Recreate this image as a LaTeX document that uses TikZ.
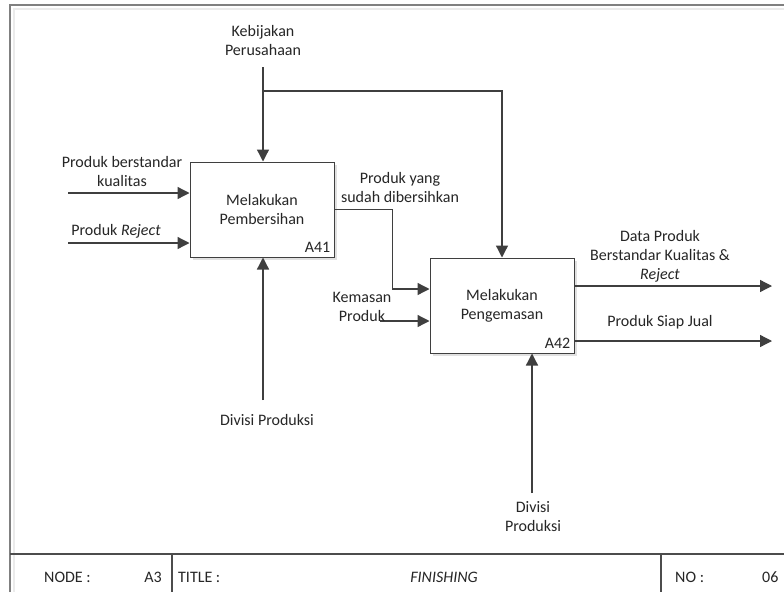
\documentclass[tikz,border=0pt]{standalone}
\usepackage{fontspec}
\setmainfont{Carlito}
\usetikzlibrary{arrows.meta,calc,shadows}
\definecolor{ink}{HTML}{3F3F3F}
\definecolor{framegray}{HTML}{808080}
\begin{document}
\begin{tikzpicture}[x=1pt,y=-1pt,
  every node/.style={font=\fontsize{16}{19}\selectfont, text=black!85},
  txt/.style={align=center, inner sep=0pt},
  actbox/.style={draw=ink, line width=1pt, fill=white, minimum width=144pt, minimum height=95pt,
    align=center, inner sep=0pt,
    drop shadow={shadow xshift=2.5pt, shadow yshift=-2.5pt, fill=black!12, opacity=1}},
  boxid/.style={anchor=south east, inner sep=0pt, xshift=-4pt, yshift=5pt},
  flow/.style={draw=ink, line width=1.3pt, -{Triangle[length=12pt,width=12pt]}},
  link/.style={draw=ink, line width=1.3pt},
  rule/.style={draw=black!70, line width=1.1pt}]

\useasboundingbox (0,0) rectangle (784,592);
\fill[white] (0,0) rectangle (784,592);

% sheet frame
\draw[black!8, line width=1.5pt] (14,592) -- (14,9) -- (784,9);
\draw[framegray, line width=2pt] (10,592) -- (10,5) -- (784,5);

% activity boxes
\node[actbox] (a41) at (262,209.5) {Melakukan\\Pembersihan};
\node[boxid] at (a41.south east) {A41};
\node[actbox] (a42) at (502,305.5) {Melakukan\\Pengemasan};
\node[boxid] at (a42.south east) {A42};

% free ends of the arrows
\coordinate (kt) at (263,67);
\coordinate (kb) at (263,91);
\coordinate (i1) at (68,193);
\coordinate (i2) at (68,243);
\coordinate (km) at (380,321);
\coordinate (o1) at (772,286);
\coordinate (o2) at (772,341);
\coordinate (d1) at (263,400);
\coordinate (d2) at (532,493);

% controls
\draw[flow] (kt) -- (kt |- a41.north);
\draw[flow] (kb) -| (a42.north);

% inputs
\draw[flow] (i1) -- (a41.west |- i1);
\draw[flow] (i2) -- (a41.west |- i2);
\draw[flow] (a41.east) -- ++(58,0) |- ($(a42.west)+(0,-16.5)$);
\draw[flow] (km) -- (a42.west |- km);

% outputs
\draw[flow] (a42.east |- o1) -- (o1);
\draw[flow] (a42.east |- o2) -- (o2);

% mechanisms
\draw[flow] (d1) -- (d1 |- a41.south);
\draw[flow] (d2) -- (d2 |- a42.south);

% arrow labels
\node[txt] (lk) at (263,41) {Kebijakan\\Perusahaan};
\node[txt] (lpb) at (122,171) {Produk berstandar\\kualitas};
\node[txt] (lpr) at (116,231) {Produk \textit{Reject}};
\node[txt] (lpy) at (400,187) {Produk yang\\sudah dibersihkan};
\node[txt] (lkm) at (362,307) {Kemasan\\Produk};
\node[txt] (ldp) at (660,256) {Data Produk\\Berstandar Kualitas \&\\\textit{Reject}};
\node[txt] (lsj) at (660,322) {Produk Siap Jual};
\node[txt] (ld1) at (267,420) {Divisi Produksi};
\node[txt] (ld2) at (533,517) {Divisi\\Produksi};

% title block
\draw[rule] (10,554) -- (784,554);
\draw[rule] (172,554) -- (172,592);
\draw[rule] (661,554) -- (661,592);
\node[anchor=west, inner sep=0pt] (nlab) at (44,577) {NODE :};
\node[anchor=east, inner sep=0pt] (nval) at (162,577) {A3};
\node[anchor=west, inner sep=0pt] (tlab) at (178,577) {TITLE :};
\node[inner sep=0pt] (tval) at (444,577) {\textit{FINISHING}};
\node[anchor=west, inner sep=0pt] (nolab) at (675,577) {NO :};
\node[anchor=west, inner sep=0pt] (noval) at (762,577) {06};
\end{tikzpicture}
\end{document}
